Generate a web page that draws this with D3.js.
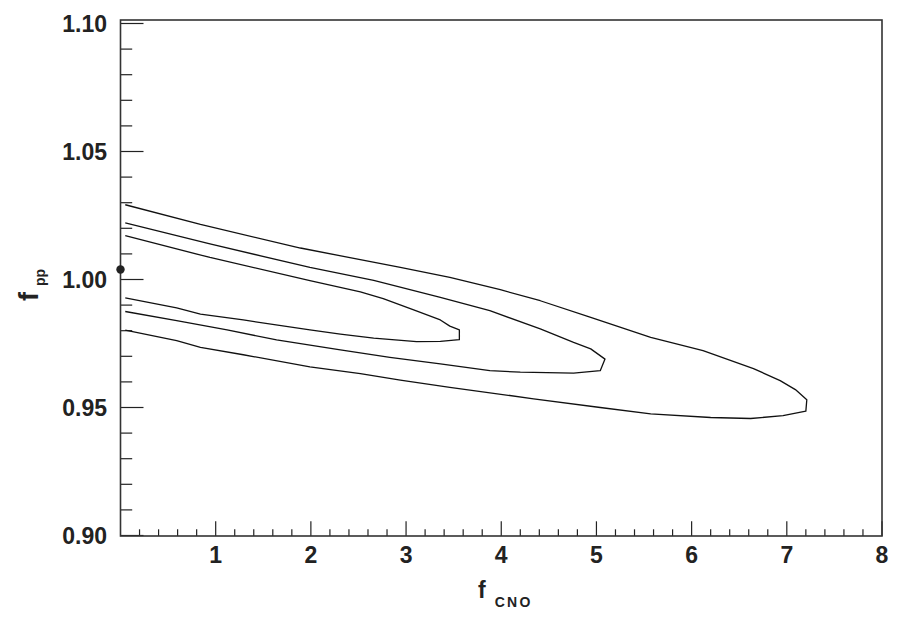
<!DOCTYPE html>
<html>
<head>
<meta charset="utf-8">
<script src="https://cdn.jsdelivr.net/npm/d3@7"></script>
<style>
  body { margin: 0; background: #fff; }
  svg { display: block; }
  text { font-family: "Liberation Sans", Arial, Helvetica, sans-serif; font-weight: bold; fill: #222; }
</style>
</head>
<body>
<script>
// contour lines, [f_CNO, f_pp]
var outerContour = [
    [0.05, 1.0292], [0.84, 1.0215], [1.89, 1.0123], [2.94, 1.0047], [3.46, 1.0008],
    [3.99, 0.9960], [4.41, 0.9917], [4.94, 0.9852], [5.57, 0.9774], [6.12, 0.9722],
    [6.65, 0.9652], [6.93, 0.9605], [7.09, 0.9570], [7.21, 0.9530], [7.20, 0.9486],
    [6.96, 0.9468], [6.62, 0.9457], [6.20, 0.9461], [5.57, 0.9475], [5.04, 0.9500],
    [4.34, 0.9534], [3.46, 0.9579], [2.94, 0.9607], [2.52, 0.9632], [1.99, 0.9659],
    [1.29, 0.9706], [0.84, 0.9735], [0.59, 0.9761], [0.05, 0.9802]
];
var middleContour = [
    [0.05, 1.0221], [0.94, 1.0139], [1.99, 1.0047], [2.66, 0.9997],
    [3.36, 0.9930], [3.88, 0.9878], [4.41, 0.9807], [4.76, 0.9754], [4.94, 0.9729],
    [5.09, 0.9689], [5.04, 0.9644], [4.76, 0.9634], [4.20, 0.9638], [3.88, 0.9644],
    [3.36, 0.9670], [2.83, 0.9696], [2.31, 0.9725], [1.64, 0.9764], [1.12, 0.9803],
    [0.59, 0.9839], [0.05, 0.9875]
];
var innerContour = [
    [0.05, 1.0171], [0.94, 1.0086], [1.99, 0.9996], [2.52, 0.9952], [2.76, 0.9925],
    [3.08, 0.9881], [3.36, 0.9842], [3.46, 0.9818], [3.56, 0.9803], [3.56, 0.9765],
    [3.36, 0.9758], [3.11, 0.9757], [2.66, 0.9771], [2.31, 0.9787], [1.99, 0.9803],
    [1.29, 0.9842], [0.84, 0.9865], [0.59, 0.9889], [0.05, 0.9928]
];
var bestFit = [0.0, 1.0039];

var xTickValues = [1, 2, 3, 4, 5, 6, 7, 8];
var yTickValues = [0.90, 0.95, 1.00, 1.05, 1.10];
var yTickLabels = ["0.90", "0.95", "1.00", "1.05", "1.10"];

function init(){
    var width = 906, height = 624;
    var left = 120.5, right = 882, top = 20, bottom = 536;

    var svg = d3.select("body").append("svg")
                .attr("width", width)
                .attr("height", height);

    var x = d3.scaleLinear().domain([0, 8]).range([left, right]);
    var y = d3.scaleLinear().domain([0.9, 1.1]).range([535.5, 23.5]);

    // minor / major ticks, pointing inward
    var xMinor = d3.range(0.2, 8, 0.2).filter(function(v){ return Math.abs(v - Math.round(v)) > 0.01; });
    svg.append("g").selectAll("line").data(xMinor).enter().append("line")
        .attr("x1", function(d){ return x(d); }).attr("x2", function(d){ return x(d); })
        .attr("y1", bottom).attr("y2", bottom - 6.7)
        .attr("stroke", "#222").attr("stroke-width", 1.2);
    svg.append("g").selectAll("line").data(xTickValues).enter().append("line")
        .attr("x1", function(d){ return x(d); }).attr("x2", function(d){ return x(d); })
        .attr("y1", bottom).attr("y2", bottom - 14.7)
        .attr("stroke", "#222").attr("stroke-width", 1.2);

    var yMinor = d3.range(0.91, 1.10, 0.01).filter(function(v){ return Math.abs(v * 20 - Math.round(v * 20)) > 0.01; });
    svg.append("g").selectAll("line").data(yMinor).enter().append("line")
        .attr("x1", left).attr("x2", left + 11.7)
        .attr("y1", function(d){ return y(d); }).attr("y2", function(d){ return y(d); })
        .attr("stroke", "#222").attr("stroke-width", 1.2);
    svg.append("g").selectAll("line").data(yTickValues).enter().append("line")
        .attr("x1", left).attr("x2", left + 23)
        .attr("y1", function(d){ return y(d); }).attr("y2", function(d){ return y(d); })
        .attr("stroke", "#222").attr("stroke-width", 1.2);

    // frame
    svg.append("rect")
        .attr("x", left).attr("y", top)
        .attr("width", right - left).attr("height", bottom - top)
        .attr("fill", "none").attr("stroke", "#333").attr("stroke-width", 1.6);

    // tick labels
    svg.append("g").selectAll("text").data(xTickValues).enter().append("text")
        .attr("x", function(d){ return x(d); })
        .attr("y", 563)
        .attr("text-anchor", "middle")
        .attr("font-size", 23)
        .text(function(d){ return d; });
    svg.append("g").selectAll("text").data(yTickValues).enter().append("text")
        .attr("x", 107)
        .attr("y", function(d){ return y(d) + 8.3; })
        .attr("text-anchor", "end")
        .attr("font-size", 23)
        .text(function(d, i){ return yTickLabels[i]; });

    // axis titles
    var xt = svg.append("text").attr("x", 478).attr("y", 597.5).attr("font-size", 23);
    xt.append("tspan").text("f");
    xt.append("tspan").attr("dx", 9).attr("dy", 9.5).attr("font-size", 14)
        .attr("letter-spacing", 2.3).text("CNO");

    var yt = svg.append("text").attr("transform", "translate(38,301) rotate(-90)").attr("font-size", 27);
    yt.append("tspan").text("f");
    yt.append("tspan").attr("dx", 6).attr("dy", 6.5).attr("font-size", 14).text("pp");

    // contours
    var line = d3.line()
        .x(function(d){ return x(d[0]); })
        .y(function(d){ return y(d[1]); });

    svg.append("g").selectAll("path")
        .data([outerContour, middleContour, innerContour])
        .enter().append("path")
        .attr("d", line)
        .attr("fill", "none")
        .attr("stroke", "#111")
        .attr("stroke-width", 1.3)
        .attr("stroke-linejoin", "round");

    svg.append("circle")
        .attr("cx", x(bestFit[0])).attr("cy", y(bestFit[1]))
        .attr("r", 4.2).attr("fill", "#222");
}

window.onload = init;
</script>
</body>
</html>
